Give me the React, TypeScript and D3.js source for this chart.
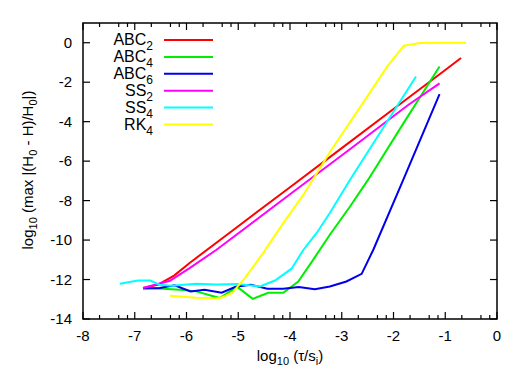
import React from "react";
import * as d3 from "d3";

const xTicks = [-8, -7, -6, -5, -4, -3, -2, -1, 0];
const yTicks = [-14, -12, -10, -8, -6, -4, -2, 0];
const minorFrac = [0.32, 0.69, 0.86];

const abc2X = [-6.84, -6.54, -6.24, -5.94, -5.0, -4.0, -3.0, -2.0, -1.0, -0.695];
const abc2Y = [-12.43, -12.25, -11.8, -11.16, -9.3, -7.32, -5.34, -3.36, -1.38, -0.77];

const abc4X = [-6.84, -6.45, -6.13, -5.81, -5.36, -5.02, -4.72, -4.42, -4.13, -3.84, -3.55, -3.23, -2.84, -2.49, -1.8, -1.11];
const abc4Y = [-12.43, -12.47, -12.52, -12.6, -12.94, -12.37, -12.98, -12.67, -12.67, -12.1, -10.99, -9.73, -8.3, -6.94, -4.05, -1.2];

const abc6X = [-6.84, -6.52, -6.23, -5.92, -5.65, -5.32, -5.05, -4.76, -4.44, -4.13, -3.83, -3.52, -3.23, -2.91, -2.615, -2.39, -1.81, -1.11];
const abc6Y = [-12.45, -12.43, -12.29, -12.6, -12.52, -12.67, -12.37, -12.26, -12.47, -12.47, -12.38, -12.49, -12.35, -12.1, -11.71, -10.49, -6.94, -2.6];

const ss2X = [-6.84, -6.32, -5.94, -5.42, -4.0, -2.855, -1.71, -1.11];
const ss2Y = [-12.43, -12.06, -11.42, -10.49, -7.68, -5.42, -3.14, -2.06];

const ss4X = [-7.29, -6.94, -6.7, -6.52, -6.29, -5.81, -5.42, -5.03, -4.58, -4.29, -3.97, -3.74, -3.485, -3.23, -2.84, -1.565];
const ss4Y = [-12.21, -12.05, -12.05, -12.26, -12.31, -12.21, -12.25, -12.23, -12.35, -12.05, -11.45, -10.49, -9.64, -8.63, -6.94, -1.71];

const rk4X = [-6.32, -5.81, -5.36, -5.12, -4.87, -4.52, -4.13, -3.74, -3.2, -2.65, -2.12, -1.8, -1.49, -1.04, -0.6];
const rk4Y = [-12.82, -12.92, -12.95, -12.69, -11.92, -10.66, -9.14, -7.7, -5.42, -3.29, -1.2, -0.15, -0.01, 0.0, 0.0];

const seriesNames = ["ABC", "ABC", "ABC", "SS", "SS", "RK"];
const seriesSubs = ["2", "4", "6", "2", "4", "4"];
const seriesColors = ["#ff0000", "#00ee00", "#0000ee", "#ff00ff", "#00ffff", "#ffff00"];
const seriesX = [abc2X, abc4X, abc6X, ss2X, ss4X, rk4X];
const seriesY = [abc2Y, abc4Y, abc6Y, ss2Y, ss4Y, rk4Y];

const W = 523;
const H = 390;
const L = 83;
const R = 497;
const T = 23;
const B = 319;
const FONT = "'Liberation Sans', Arial, Helvetica, sans-serif";

export default function App() {
  const x = d3.scaleLinear().domain([-8, 0]).range([L, R]);
  const y = d3.scaleLinear().domain([-14, 1]).range([B, T]);
  const line = d3
    .line<[number, number]>()
    .x((d) => x(d[0]))
    .y((d) => y(d[1]));

  const minorTicks: number[] = [];
  for (let i = 0; i < xTicks.length - 1; i++) {
    for (const f of minorFrac) minorTicks.push(xTicks[i] + f);
  }

  return (
    <svg
      width={W}
      height={H}
      style={{ position: "absolute", left: 0, top: 0, background: "#fff" }}
      fontFamily={FONT}
    >
      <rect x={0} y={0} width={W} height={H} fill="#fff" />
      {/* series */}
      {seriesX.map((xs, i) => (
        <path
          key={i}
          d={line(xs.map((v, j) => [v, seriesY[i][j]] as [number, number])) || ""}
          fill="none"
          stroke={seriesColors[i]}
          strokeWidth={2}
          strokeLinejoin="miter"
        />
      ))}
      {/* frame */}
      <rect x={L} y={T} width={R - L} height={B - T} fill="none" stroke="#000" strokeWidth={1.5} />
      {/* x ticks */}
      {xTicks.map((t) => (
        <g key={"xt" + t}>
          <line x1={x(t)} x2={x(t)} y1={B} y2={B - 7} stroke="#000" strokeWidth={1.2} />
          <line x1={x(t)} x2={x(t)} y1={T} y2={T + 7} stroke="#000" strokeWidth={1.2} />
          <text x={x(t)} y={341} fontSize={15} textAnchor="middle" fill="#000">
            {t}
          </text>
        </g>
      ))}
      {minorTicks.map((t, i) => (
        <g key={"mx" + i}>
          <line x1={x(t)} x2={x(t)} y1={B} y2={B - 4} stroke="#000" strokeWidth={1.2} />
          <line x1={x(t)} x2={x(t)} y1={T} y2={T + 4} stroke="#000" strokeWidth={1.2} />
        </g>
      ))}
      {/* y ticks */}
      {yTicks.map((t) => (
        <g key={"yt" + t}>
          <line x1={L} x2={L + 7} y1={y(t)} y2={y(t)} stroke="#000" strokeWidth={1.2} />
          <line x1={R} x2={R - 7} y1={y(t)} y2={y(t)} stroke="#000" strokeWidth={1.2} />
          <text x={72} y={y(t) + 5} fontSize={15} textAnchor="end" fill="#000">
            {t}
          </text>
        </g>
      ))}
      {/* axis labels */}
      <text x={290} y={361} fontSize={15} textAnchor="middle" fill="#000">
        log
        <tspan fontSize={11} dy={4}>10</tspan>
        <tspan dy={-4}> (τ/s</tspan>
        <tspan fontSize={11} dy={4}>i</tspan>
        <tspan dy={-4}>)</tspan>
      </text>
      <text
        transform="translate(33,170) rotate(-90)"
        fontSize={15}
        textAnchor="middle"
        fill="#000"
      >
        log
        <tspan fontSize={11} dy={4}>10</tspan>
        <tspan dy={-4}> (max |(H</tspan>
        <tspan fontSize={11} dy={4}>0</tspan>
        <tspan dy={-4}> - H)/H</tspan>
        <tspan fontSize={11} dy={4}>0</tspan>
        <tspan dy={-4}>|)</tspan>
      </text>
      {/* legend */}
      {seriesNames.map((n, i) => {
        const ly = 40 + i * 16.9;
        return (
          <g key={"lg" + i}>
            <text x={153} y={ly + 5} fontSize={16} textAnchor="end" fill="#000">
              {n}
              <tspan fontSize={12} dy={5}>
                {seriesSubs[i]}
              </tspan>
            </text>
            <line x1={164} x2={213} y1={ly} y2={ly} stroke={seriesColors[i]} strokeWidth={2} />
          </g>
        );
      })}
    </svg>
  );
}
